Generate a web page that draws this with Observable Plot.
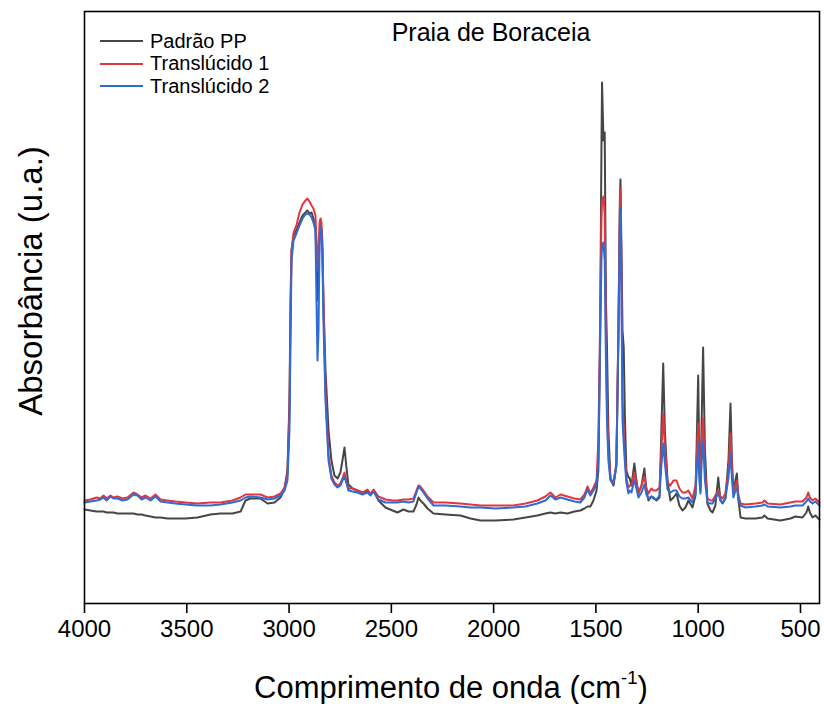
<!DOCTYPE html>
<html><head><meta charset="utf-8">
<script src="https://cdn.jsdelivr.net/npm/d3@7"></script>
<script src="https://cdn.jsdelivr.net/npm/@observablehq/plot@0.6"></script>
<style>
body{margin:0;background:#fff;}
#wrap{position:relative;width:824px;height:704px;font-family:"Liberation Sans",Arial,sans-serif;color:#000;}
.lbl{position:absolute;white-space:nowrap;line-height:1;}
.leg{position:absolute;left:100px;top:30px;font-size:20px;}
.leg div{height:22.5px;display:flex;align-items:center;}
.leg svg{margin-right:7px;}
</style></head><body><div id="wrap"></div>
<script>
const wavenumber = [4000,3971,3941,3922,3907,3892,3873,3858,3839,3814,3790,3760,3741,3721,3702,3677,3653,3628,3594,3555,3506,3448,3384,3335,3277,3237,3213,3189,3140,3105,3071,3042,3022,3008,2998,2993,2988,2978,2964,2949,2934,2920,2910,2900,2890,2881,2871,2866,2861,2856,2851,2846,2842,2837,2832,2822,2807,2793,2778,2763,2749,2739,2729,2719,2710,2690,2666,2641,2617,2602,2587,2563,2529,2494,2470,2441,2416,2392,2377,2367,2358,2343,2323,2294,2235,2162,2113,2064,1991,1903,1844,1786,1747,1722,1698,1673,1639,1605,1576,1556,1541,1527,1512,1497,1488,1480,1473,1470,1463,1457,1451,1446,1439,1429,1414,1400,1390,1383,1380,1375,1370,1364,1358,1351,1341,1336,1326,1312,1302,1292,1277,1263,1253,1243,1229,1219,1204,1189,1180,1171,1163,1150,1136,1121,1106,1092,1077,1062,1048,1028,1013,1000,994,989,983,976,967,955,940,930,916,902,891,881,867,852,842,835,828,818,811,803,793,769,720,686,676,661,598,549,525,490,471,462,454,441,427,407];
const padraoPP = [.094,.093,.092,.092,.092,.091,.091,.091,.090,.090,.090,.090,.089,.089,.088,.087,.086,.086,.085,.085,.085,.086,.089,.090,.090,.092,.103,.105,.105,.100,.101,.106,.115,.133,.203,.303,.353,.367,.373,.381,.388,.391,.393,.390,.391,.385,.375,.343,.303,.323,.368,.378,.375,.353,.303,.233,.173,.143,.128,.125,.131,.143,.156,.135,.119,.115,.113,.111,.112,.109,.113,.103,.096,.093,.091,.094,.092,.092,.099,.106,.103,.100,.095,.090,.089,.088,.085,.083,.083,.084,.086,.088,.090,.091,.090,.091,.090,.092,.093,.095,.097,.097,.103,.113,.133,.253,.453,.521,.463,.471,.303,.258,.173,.125,.118,.138,.273,.403,.424,.353,.273,.256,.183,.133,.126,.126,.118,.140,.123,.110,.118,.135,.113,.103,.107,.106,.103,.106,.173,.240,.173,.123,.103,.106,.110,.098,.093,.096,.103,.096,.108,.228,.133,.113,.183,.256,.153,.100,.093,.091,.098,.126,.103,.100,.105,.143,.200,.143,.113,.123,.130,.103,.086,.085,.085,.086,.088,.085,.083,.085,.087,.086,.091,.097,.091,.086,.088,.084];
const translucido1 = [.103,.104,.106,.105,.108,.105,.108,.106,.107,.105,.106,.111,.109,.106,.108,.105,.109,.104,.103,.102,.101,.100,.101,.101,.103,.106,.109,.109,.109,.106,.107,.110,.116,.128,.193,.283,.353,.371,.378,.391,.399,.403,.405,.402,.398,.395,.388,.363,.333,.353,.381,.385,.381,.363,.303,.213,.148,.128,.121,.118,.120,.125,.131,.122,.115,.115,.113,.111,.114,.110,.114,.107,.104,.103,.103,.104,.104,.105,.113,.118,.117,.113,.107,.101,.101,.100,.099,.098,.098,.098,.100,.103,.107,.111,.106,.109,.107,.105,.104,.109,.117,.110,.116,.123,.163,.273,.383,.403,.407,.388,.273,.203,.153,.125,.121,.140,.273,.393,.415,.333,.203,.173,.148,.125,.116,.118,.118,.131,.121,.110,.118,.127,.115,.110,.115,.113,.113,.116,.153,.190,.158,.121,.118,.123,.123,.115,.111,.111,.113,.105,.118,.180,.133,.116,.163,.185,.133,.105,.103,.103,.108,.113,.107,.105,.110,.133,.170,.133,.110,.118,.123,.108,.100,.099,.100,.101,.103,.100,.099,.101,.102,.102,.106,.111,.106,.103,.105,.101];
const translucido2 = [.101,.102,.103,.104,.106,.103,.107,.105,.105,.103,.104,.109,.108,.104,.106,.103,.107,.102,.101,.100,.099,.098,.098,.099,.101,.103,.106,.107,.106,.104,.105,.108,.113,.123,.173,.263,.343,.363,.370,.378,.385,.389,.390,.389,.386,.381,.373,.303,.243,.273,.363,.377,.373,.348,.283,.203,.143,.125,.119,.116,.118,.123,.127,.120,.113,.112,.111,.109,.111,.108,.112,.104,.101,.101,.101,.102,.101,.102,.111,.117,.115,.111,.105,.098,.098,.097,.096,.096,.095,.096,.097,.100,.103,.108,.104,.106,.104,.102,.101,.106,.114,.108,.113,.119,.143,.253,.343,.358,.361,.343,.243,.183,.143,.123,.120,.138,.263,.373,.396,.313,.183,.160,.140,.121,.110,.113,.111,.124,.115,.106,.111,.119,.109,.105,.107,.105,.104,.108,.138,.160,.141,.114,.111,.113,.113,.107,.105,.105,.106,.101,.110,.160,.123,.110,.143,.163,.123,.101,.100,.100,.105,.110,.103,.101,.105,.126,.150,.125,.106,.113,.116,.104,.098,.096,.097,.098,.099,.097,.096,.097,.098,.098,.102,.105,.102,.100,.102,.098];
const seriesNames = ["Padrão PP", "Translúcido 1", "Translúcido 2"];
const seriesColors = ["#464646", "#e0373f", "#2f6bd3"];
const xTicks = [4000, 3500, 3000, 2500, 2000, 1500, 1000, 500];
const chartTitle = "Praia de Boraceia";

const rows = [];
[padraoPP, translucido1, translucido2].forEach((arr, k) =>
  arr.forEach((v, i) => rows.push({wn: wavenumber[i], a: v, s: seriesNames[k]})));

const chart = Plot.plot({
  width: 824, height: 704,
  marginLeft: 84, marginRight: 5, marginTop: 11, marginBottom: 101,
  style: {fontFamily: "'Liberation Sans', Arial, sans-serif", background: "white", color: "black", fontSize: "24px"},
  x: {domain: [4000, 407]},
  y: {domain: [0, 0.592], axis: null},
  color: {domain: seriesNames, range: seriesColors},
  marks: [
    Plot.lineY(rows, {x: "wn", y: "a", z: "s", stroke: "s", strokeWidth: 2}),
    Plot.frame({stroke: "black", strokeWidth: 1.6}),
    Plot.axisX({ticks: xTicks, tickSize: 10, tickPadding: 6, tickFormat: d => String(d), label: null, strokeWidth: 1.6, fontSize: 24})
  ]
});
const wrap = document.getElementById("wrap");
wrap.appendChild(chart);

function addLabel(html, css) {
  const d = document.createElement("div");
  d.className = "lbl";
  d.innerHTML = html;
  Object.assign(d.style, css);
  wrap.appendChild(d);
  return d;
}
addLabel(chartTitle, {left: "491px", top: "32px", fontSize: "25px", transform: "translate(-50%,-50%)"});
addLabel("Comprimento de onda (cm<sup style='font-size:60%;vertical-align:0.7em'>-1</sup>)", {left: "451px", top: "686px", fontSize: "31px", transform: "translate(-50%,-50%)"});
addLabel("Absorbância (u.a.)", {left: "30px", top: "281px", fontSize: "33px", transform: "translate(-50%,-50%) rotate(-90deg)"});

const leg = document.createElement("div");
leg.className = "leg";
seriesNames.forEach((n, i) => {
  const r = document.createElement("div");
  r.innerHTML = `<svg width="43" height="4"><line x1="0" x2="43" y1="2" y2="2" stroke="${seriesColors[i]}" stroke-width="2"/></svg><span>${n}</span>`;
  leg.appendChild(r);
});
wrap.appendChild(leg);
</script></body></html>
